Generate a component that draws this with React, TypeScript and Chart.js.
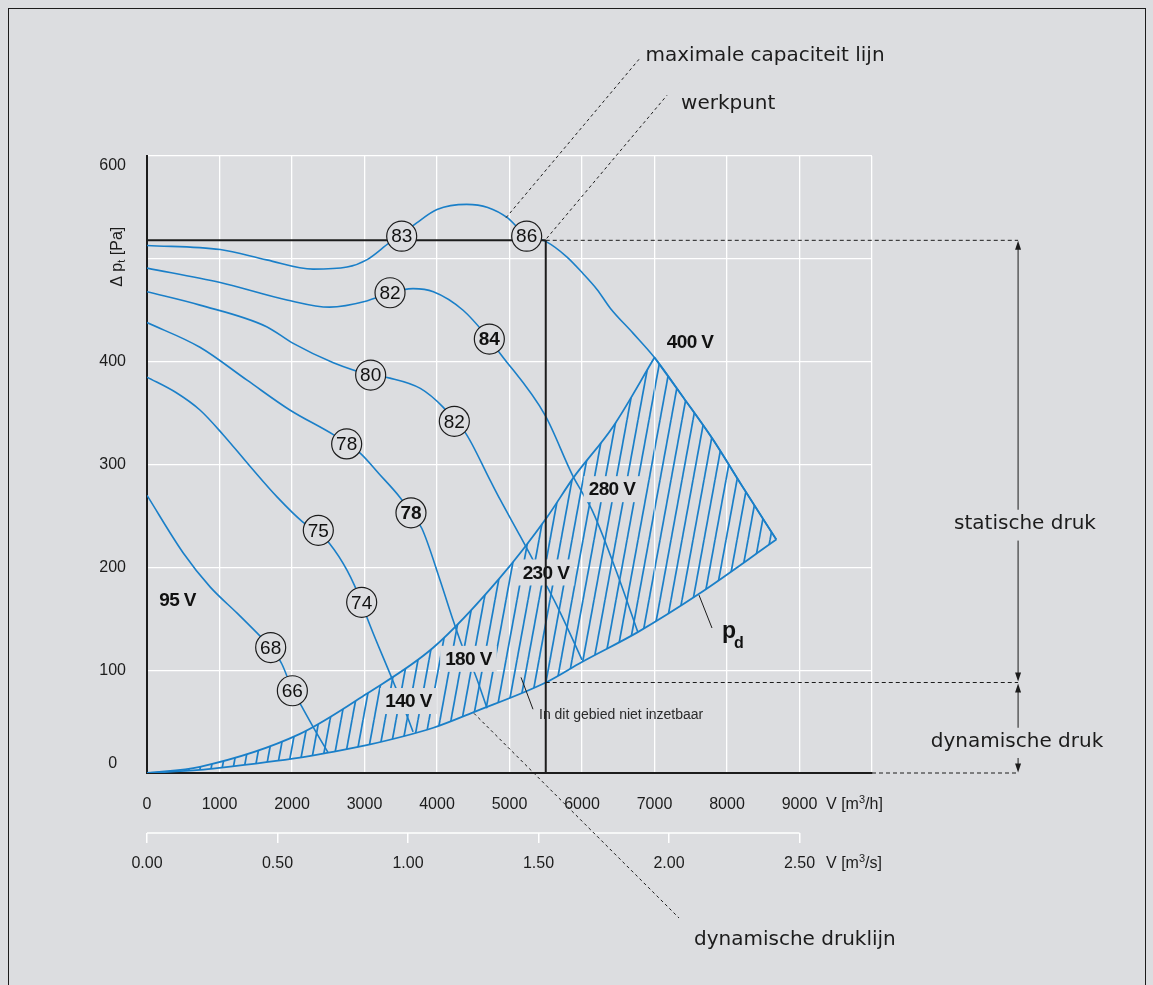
import { useEffect, useRef } from 'react';
import { Chart, registerables } from 'chart.js';

Chart.register(...registerables);

type Pt = [number, number];

// ---- axes -------------------------------------------------------------
const flowTicks = [0, 1000, 2000, 3000, 4000, 5000, 6000, 7000, 8000, 9000, 10000];
const flowTickLabels = ['0', '1000', '2000', '3000', '4000', '5000', '6000', '7000', '8000', '9000', ''];
const flowSecTicks = [0, 0.5, 1, 1.5, 2, 2.5];
const flowSecTickLabels = ['0.00', '0.50', '1.00', '1.50', '2.00', '2.50'];
const pressureTicks = [0, 100, 200, 300, 400, 500, 600];
const pressureTickLabels = ['0', '100', '200', '300', '400', '', '600'];

// ---- fan curves per supply voltage: [flow m³/h, total pressure Pa] ----
const u95: Pt[] = [[0, 270], [500, 214], [870, 181], [1250, 155], [1520, 136], [1710, 122], [1860, 106], [2000, 82], [2140, 64], [2330, 40], [2500, 19.5]];
const u140: Pt[] = [[0, 385], [400, 370], [730, 353], [1050, 329], [1400, 300], [1800, 268], [2150, 244], [2360, 234], [2520, 223], [2760, 197], [2960, 166], [3030, 152], [3390, 90], [3590, 55], [3670, 40]];
const u180: Pt[] = [[0, 438], [730, 414], [1380, 382], [1970, 353], [2570, 329], [2760, 320], [2940, 311], [3200, 291], [3490, 268], [3640, 253], [3790, 238], [4040, 188], [4220, 149], [4345, 124], [4520, 97], [4690, 63]];
const u230: Pt[] = [[0, 468], [730, 455], [1650, 434], [2010, 418], [2570, 399], [3090, 387], [3350, 384], [3770, 374], [4080, 356], [4240, 342], [4390, 331], [4730, 285], [4870, 266], [5150, 230], [5520, 181], [5700, 156], [6000, 110]];
const u280: Pt[] = [[0, 491], [1010, 477], [1930, 460], [2520, 453], [3030, 459], [3350, 467], [3670, 471], [3950, 468], [4360, 450], [4720, 422], [4860, 409], [5490, 348], [5880, 288], [6010, 272], [6150, 254], [6480, 195], [6770, 137]];
const u400: Pt[] = [[0, 513], [1010, 509], [1650, 499], [2290, 490], [2760, 492], [3030, 499], [3350, 516], [3520, 524], [3720, 535], [4000, 548], [4410, 553], [4700, 550], [4970, 540], [5210, 524], [5500, 517], [5790, 502], [6010, 486], [6210, 470], [6390, 452], [6700, 428], [7000, 404], [7400, 365], [7800, 325], [8200, 280], [8680, 227]];

// zero static pressure boundary (upper edge of the excluded zone)
const zeroStaticLine: Pt[] = [[0, 0], [730, 6], [2110, 38], [3030, 77], [3950, 122], [4870, 190], [5520, 249], [5880, 287], [6430, 337], [7000, 404]];
// dynamic pressure line p_d
const dynamicPressure: Pt[] = [[0, 0], [730, 3], [1000, 5], [2110, 15], [2480, 19.5], [3030, 27], [3950, 44], [4500, 59], [5500, 88], [6000, 108], [6770, 137], [7610, 174], [8680, 227]];

const voltageLabels = ['95 V', '140 V', '180 V', '230 V', '280 V', '400 V'];
const voltageLabelAt: Pt[] = [[421, 168], [3607, 70], [4434, 111], [5503, 195], [6414, 276], [7490, 419]];
const voltageLabelBoxed = [false, true, true, true, true, false];

// efficiency markers (%)
const efficiencyLabels = ['83', '86', '82', '84', '80', '82', '78', '78', '75', '74', '68', '66'];
const efficiencyPoints: Pt[] = [[3513, 522], [5237, 522], [3352, 467], [4722, 422], [3085, 387], [4239, 342], [2754, 320], [3641, 253], [2363, 236], [2961, 166], [1706, 122], [2005, 80]];
const efficiencyBold = [false, false, false, true, false, false, false, true, false, false, false, false];

// operating point [m³/h, Pa] and its dynamic pressure
const workPoint: Pt = [5500, 518];
const workPointDynamic = 88;

// ---- styling ------------------------------------------------------------
const BLUE = '#1a7fc8';
const BG = '#dcdde0';
const INK = '#1c1c1c';
const tickFont = "'Liberation Sans', Arial, sans-serif";
const noteFont = "'DejaVu Sans', sans-serif";

// annotation anchors, in chart units (flow, pressure)
const sideColumn = 12015;
const staticGap: Pt = [226, 256];
const dynamicGap: Pt = [14.6, 44];

function makeHatch(ctx: CanvasRenderingContext2D) {
  const W = 11;
  const H = 60;
  const tile = document.createElement('canvas');
  tile.width = W;
  tile.height = H;
  const t = tile.getContext('2d')!;
  t.strokeStyle = BLUE;
  t.lineWidth = 1.7;
  for (const dx of [-W, 0, W]) {
    t.beginPath();
    t.moveTo(dx, H);
    t.lineTo(dx + W, 0);
    t.stroke();
  }
  return ctx.createPattern(tile, 'repeat');
}

export default function App() {
  const ref = useRef<HTMLCanvasElement>(null);

  useEffect(() => {
    document.body.style.background = BG;
    const canvas = ref.current!;
    const ctx = canvas.getContext('2d')!;
    const hatch = makeHatch(ctx);
    const toXY = (pts: Pt[]) => pts.map(([x, y]) => ({ x, y }));
    const peakFlow = zeroStaticLine[zeroStaticLine.length - 1][0];
    const maxCapacityTail: Pt[] = u400.filter(([v]) => v >= peakFlow);
    const curves = [u95, u140, u180, u230, u280, u400];

    const curveStyle = {
      type: 'line',
      borderColor: BLUE,
      pointRadius: 0,
      fill: false,
      cubicInterpolationMode: 'monotone',
    };

    // index 2 is the p_d line; both hatch edges fill down to it
    const datasets: any[] = [
      { ...curveStyle, data: toXY(zeroStaticLine), borderWidth: 1.8, fill: 2, backgroundColor: hatch, order: 10 },
      { ...curveStyle, data: toXY(maxCapacityTail), borderWidth: 1.8, fill: 2, backgroundColor: hatch, order: 10 },
      { ...curveStyle, data: toXY(dynamicPressure), borderWidth: 1.8, order: 10 },
      ...curves.map((c) => ({ ...curveStyle, data: toXY(c), borderWidth: 1.6, order: 8 })),
      { type: 'line', data: toXY([[0, workPoint[1]], workPoint]), borderColor: INK, borderWidth: 2, pointRadius: 0, fill: false, order: 5 },
      { type: 'line', data: toXY([workPoint, [workPoint[0], 0]]), borderColor: INK, borderWidth: 2, pointRadius: 0, fill: false, order: 5 },
      {
        type: 'scatter',
        data: toXY(efficiencyPoints),
        pointRadius: 15,
        pointBackgroundColor: BG,
        pointBorderColor: INK,
        pointBorderWidth: 1.2,
        order: 1,
      },
    ];

    let labelsDone = false;

    const drawLine = (c: CanvasRenderingContext2D, pts: number[][], dash: number[] = [], width = 1) => {
      c.save();
      c.setLineDash(dash);
      c.lineWidth = width;
      c.strokeStyle = INK;
      c.beginPath();
      pts.forEach(([x, y], i) => (i ? c.lineTo(x, y) : c.moveTo(x, y)));
      c.stroke();
      c.restore();
    };
    const arrowHead = (c: CanvasRenderingContext2D, x: number, tipY: number, dir: number) => {
      c.save();
      c.fillStyle = INK;
      c.beginPath();
      c.moveTo(x, tipY);
      c.lineTo(x - 3, tipY - dir * 9);
      c.lineTo(x + 3, tipY - dir * 9);
      c.closePath();
      c.fill();
      c.restore();
    };
    const write = (c: CanvasRenderingContext2D, s: string, x: number, y: number, font: string, align: CanvasTextAlign = 'left', color = INK) => {
      c.save();
      c.font = font;
      c.fillStyle = color;
      c.textAlign = align;
      c.textBaseline = 'middle';
      c.fillText(s, x, y);
      c.restore();
    };
    const unitLabel = (c: CanvasRenderingContext2D, x: number, y: number, tail: string) => {
      c.save();
      c.fillStyle = INK;
      c.textBaseline = 'middle';
      c.textAlign = 'left';
      c.font = `16px ${tickFont}`;
      c.fillText('V [m', x, y);
      let cx = x + c.measureText('V [m').width;
      c.font = `11px ${tickFont}`;
      c.fillText('3', cx, y - 5);
      cx += c.measureText('3').width;
      c.font = `16px ${tickFont}`;
      c.fillText(tail, cx, y);
      c.restore();
    };

    const plugin = {
      id: 'fanSheet',
      beforeDraw(chart: any) {
        const c = chart.ctx;
        c.save();
        c.fillStyle = BG;
        c.fillRect(0, 0, chart.width, chart.height);
        c.restore();
      },
      beforeDatasetsDraw() {
        labelsDone = false;
      },
      beforeDatasetDraw(chart: any, args: any) {
        const ds = chart.data.datasets[args.index];
        if (labelsDone || ds.order > 5) return;
        labelsDone = true;
        const c = chart.ctx;
        const X = (v: number) => chart.scales.x.getPixelForValue(v);
        const Y = (p: number) => chart.scales.y.getPixelForValue(p);
        c.save();
        c.font = `bold 19px ${tickFont}`;
        (c as any).letterSpacing = '-0.6px';
        voltageLabels.forEach((label, i) => {
          const [v, p] = voltageLabelAt[i];
          const x = X(v);
          const y = Y(p);
          const w = c.measureText(label).width;
          if (voltageLabelBoxed[i]) {
            c.fillStyle = BG;
            c.fillRect(x - w / 2 - 5, y - 13, w + 10, 26);
          }
          c.fillStyle = '#111';
          c.textAlign = 'center';
          c.textBaseline = 'middle';
          c.fillText(label, x, y + 1);
        });
        c.restore();
      },
      afterDatasetsDraw(chart: any) {
        const c = chart.ctx;
        const X = (v: number) => chart.scales.x.getPixelForValue(v);
        const Y = (p: number) => chart.scales.y.getPixelForValue(p);
        efficiencyLabels.forEach((s, i) => {
          const [v, p] = efficiencyPoints[i];
          write(c, s, X(v), Y(p) + 1, `${efficiencyBold[i] ? 'bold ' : ''}19px ${tickFont}`, 'center', '#111');
        });
      },
      afterDraw(chart: any) {
        const c = chart.ctx;
        const xs = chart.scales.x;
        const x2 = chart.scales.x2;
        const X = (v: number) => xs.getPixelForValue(v);
        const Y = (p: number) => chart.scales.y.getPixelForValue(p);

        // page frame
        c.save();
        c.strokeStyle = INK;
        c.lineWidth = 1;
        c.strokeRect(8.5, 8.5, chart.width - 16, chart.height + 10);
        c.restore();

        // secondary flow axis line (m³/s)
        c.save();
        c.strokeStyle = '#ffffff';
        c.lineWidth = 1.5;
        c.beginPath();
        c.moveTo(x2.getPixelForValue(0), x2.top);
        c.lineTo(x2.getPixelForValue(2.5), x2.top);
        c.stroke();
        c.restore();

        // pressure axis title
        c.save();
        c.translate(X(-400), Y(502));
        c.rotate(-Math.PI / 2);
        c.fillStyle = INK;
        c.textBaseline = 'middle';
        const a = '\u0394 p';
        const b = ' [Pa]';
        c.font = `16px ${tickFont}`;
        const wa = c.measureText(a).width;
        const wb = c.measureText(b).width;
        c.font = `11px ${tickFont}`;
        const ws = c.measureText('t').width;
        let cx = -(wa + ws + wb) / 2;
        c.font = `16px ${tickFont}`;
        c.fillText(a, cx, 0);
        cx += wa;
        c.font = `11px ${tickFont}`;
        c.fillText('t', cx, 4);
        cx += ws;
        c.font = `16px ${tickFont}`;
        c.fillText(b, cx, 0);
        c.restore();

        unitLabel(c, X(9366), Y(-31), '/h]');
        unitLabel(c, X(9366), Y(-88.5), '/s]');

        // pressure reference lines to the side column
        const sx = X(sideColumn);
        drawLine(c, [[X(workPoint[0]), Y(workPoint[1])], [sx, Y(workPoint[1])]], [4, 3]);
        drawLine(c, [[X(workPoint[0]), Y(workPointDynamic)], [sx, Y(workPointDynamic)]], [4, 3]);
        drawLine(c, [[X(10000), Y(0)], [sx, Y(0)]], [4, 3]);

        // static pressure arrow
        drawLine(c, [[sx, Y(workPoint[1]) + 6], [sx, Y(staticGap[1])]]);
        drawLine(c, [[sx, Y(staticGap[0])], [sx, Y(workPointDynamic) - 6]]);
        arrowHead(c, sx, Y(workPoint[1]) + 0.5, -1);
        arrowHead(c, sx, Y(workPointDynamic) - 1, 1);
        write(c, 'statische druk', X(12110), Y(242), `20px ${noteFont}`, 'center');

        // dynamic pressure arrow
        drawLine(c, [[sx, Y(workPointDynamic) + 6], [sx, Y(dynamicGap[1])]]);
        drawLine(c, [[sx, Y(dynamicGap[0])], [sx, Y(0) - 6]]);
        arrowHead(c, sx, Y(workPointDynamic) + 1, -1);
        arrowHead(c, sx, Y(0) - 0.5, 1);
        write(c, 'dynamische druk', X(12000), Y(30), `20px ${noteFont}`, 'center');

        // leaders with their notes
        drawLine(c, [[X(4952), Y(540)], [X(6786), Y(694)]], [3, 3]);
        write(c, 'maximale capaciteit lijn', X(6876), Y(697), `20px ${noteFont}`);
        drawLine(c, [[X(workPoint[0]) + 1, Y(workPoint[1]) - 2], [X(7172), Y(659)]], [3, 3]);
        write(c, 'werkpunt', X(7366), Y(651), `20px ${noteFont}`);
        drawLine(c, [[X(4510), Y(58)], [X(7338), Y(-141)]], [3, 3]);
        write(c, 'dynamische druklijn', X(7545), Y(-162.5), `20px ${noteFont}`);

        drawLine(c, [[X(7614), Y(173)], [X(7793), Y(141)]]);
        c.save();
        c.fillStyle = '#111';
        c.textBaseline = 'alphabetic';
        c.font = `bold 23px ${tickFont}`;
        c.fillText('p', X(7931), Y(131));
        c.font = `bold 16px ${tickFont}`;
        c.fillText('d', X(8095), Y(121.6));
        c.restore();

        drawLine(c, [[X(5159), Y(93)], [X(5324), Y(62)]]);
        write(c, 'In dit gebied niet inzetbaar', X(5407), Y(56), `14px ${tickFont}`, 'left', '#2a2a2a');
      },
    };

    const tickStyle = { family: tickFont, size: 16 };

    const chart = new Chart(canvas, {
      type: 'line',
      data: { datasets },
      plugins: [plugin],
      options: {
        responsive: false,
        animation: false,
        devicePixelRatio: 1,
        events: [],
        layout: { padding: { left: 0, top: 156, right: 281, bottom: 92 } },
        plugins: { legend: { display: false }, tooltip: { enabled: false } },
        scales: {
          x: {
            type: 'linear',
            position: 'bottom',
            min: 0,
            max: 10000,
            afterBuildTicks: (s: any) => {
              s.ticks = flowTicks.map((value) => ({ value }));
            },
            afterFit: (s: any) => {
              s.height = 60;
            },
            ticks: {
              autoSkip: false,
              maxRotation: 0,
              padding: 22,
              color: INK,
              font: tickStyle,
              callback: (_v: any, i: number) => flowTickLabels[i],
            },
            grid: { color: '#ffffff', lineWidth: 1.3, drawTicks: false },
            border: { display: true, color: INK, width: 2 },
          },
          x2: {
            type: 'linear',
            position: 'bottom',
            min: 0,
            max: 10000 / 3600,
            afterBuildTicks: (s: any) => {
              s.ticks = flowSecTicks.map((value) => ({ value }));
            },
            afterFit: (s: any) => {
              s.height = 60;
            },
            ticks: {
              autoSkip: false,
              maxRotation: 0,
              padding: 11,
              color: INK,
              font: tickStyle,
              callback: (_v: any, i: number) => flowSecTickLabels[i],
            },
            grid: { display: true, drawOnChartArea: false, drawTicks: true, tickLength: 10, color: '#ffffff', lineWidth: 1.5 },
            border: { display: false },
          },
          y: {
            type: 'linear',
            min: 0,
            max: 600,
            afterBuildTicks: (s: any) => {
              s.ticks = pressureTicks.map((value) => ({ value }));
            },
            afterFit: (s: any) => {
              s.width = 147;
            },
            ticks: {
              autoSkip: false,
              padding: 21,
              crossAlign: 'center',
              color: INK,
              font: tickStyle,
              callback: (_v: any, i: number) => {
                const t = pressureTickLabels[i];
                if (i === 0) return [t, ''];
                if (i === pressureTicks.length - 1) return ['', t];
                return t;
              },
            },
            grid: { color: '#ffffff', lineWidth: 1.3, drawTicks: false },
            border: { display: true, color: INK, width: 2 },
          },
        },
      } as any,
    });

    return () => chart.destroy();
  }, []);

  return (
    <canvas
      ref={ref}
      width={1153}
      height={985}
      style={{ position: 'fixed', left: 0, top: 0, display: 'block' }}
    />
  );
}
